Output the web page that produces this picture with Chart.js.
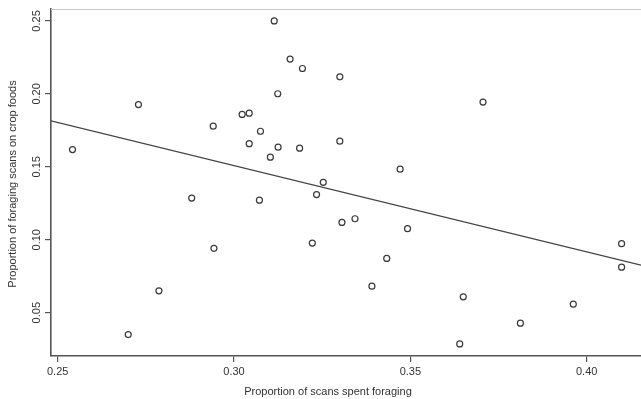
<!DOCTYPE html>
<html>
<head>
<meta charset="utf-8">
<script src="https://cdn.jsdelivr.net/npm/chart.js@4.4.1/dist/chart.umd.min.js"></script>
<style>
  html, body { margin: 0; padding: 0; background: #fff; }
  #wrap { width: 641px; height: 399px; position: relative; }
</style>
</head>
<body>
<div id="wrap"><canvas id="scanChart"></canvas></div>
<script>
// proportion of scans spent foraging (x) vs proportion of foraging scans on crop foods (y)
const foragingProp = [
  0.2542, 0.2729, 0.2700, 0.2787, 0.2880, 0.2941, 0.2943, 0.3023, 0.3043, 0.3043,
  0.3075, 0.3103, 0.3114, 0.3124, 0.3125, 0.3159, 0.3194, 0.3186, 0.3072, 0.3234,
  0.3253, 0.3222, 0.3300, 0.3300, 0.3306, 0.3343, 0.3471, 0.3492, 0.3433, 0.3391,
  0.3706, 0.3650, 0.3640, 0.3812, 0.3962, 0.4099, 0.4099
];
const cropProp = [
  0.1618, 0.1927, 0.0350, 0.0650, 0.1286, 0.1779, 0.0941, 0.1859, 0.1868, 0.1659,
  0.1744, 0.1566, 0.2500, 0.2001, 0.1635, 0.2239, 0.2174, 0.1628, 0.1271, 0.1310,
  0.1394, 0.0977, 0.2117, 0.1676, 0.1119, 0.1144, 0.1484, 0.1076, 0.0872, 0.0682,
  0.1944, 0.0609, 0.0286, 0.0428, 0.0558, 0.0973, 0.0812
];

// fitted line
const fitIntercept = 0.3281;
const fitSlope = -0.591;

const xTicks = [0.25, 0.30, 0.35, 0.40];
const yTicks = [0.05, 0.10, 0.15, 0.20, 0.25];
const xRange = [0.2481, 0.4154];
const yRange = [0.0203, 0.2582];

const xTitle = 'Proportion of scans spent foraging';
const yTitle = 'Proportion of foraging scans on crop foods';

const FONT = '"Liberation Sans", Arial, Helvetica, sans-serif';
const AXIS_COL = '#555';
const TEXT_COL = '#333';

const points = foragingProp.map((x, i) => ({ x: x, y: cropProp[i] }));
const fitLine = xRange.map(x => ({ x: x, y: fitIntercept + fitSlope * x }));

// R-style extras: rotated y tick labels, axis titles, light top frame
const extrasPlugin = {
  id: 'extras',
  afterDraw(chart) {
    const ctx = chart.ctx;
    const area = chart.chartArea;
    const yScale = chart.scales.y;

    ctx.save();
    ctx.strokeStyle = '#c8c8c8';
    ctx.lineWidth = 1;
    ctx.beginPath();
    ctx.moveTo(area.left, area.top + 0.5);
    ctx.lineTo(area.right, area.top + 0.5);
    ctx.stroke();

    ctx.fillStyle = TEXT_COL;
    ctx.font = '11px ' + FONT;
    ctx.textAlign = 'center';
    ctx.textBaseline = 'middle';
    yTicks.forEach(v => {
      const py = yScale.getPixelForValue(v);
      ctx.save();
      ctx.translate(area.left - 14, py);
      ctx.rotate(-Math.PI / 2);
      ctx.fillText(v.toFixed(2), 0, 0);
      ctx.restore();
    });

    // axis titles
    ctx.save();
    ctx.translate(13, area.top + 175);
    ctx.rotate(-Math.PI / 2);
    ctx.fillText(yTitle, 0, 0);
    ctx.restore();

    ctx.fillText(xTitle, area.left + 277, area.bottom + 36);
    ctx.restore();
  }
};

const ctx = document.getElementById('scanChart').getContext('2d');
const scanChart = new Chart(ctx, {
  type: 'scatter',
  data: {
    datasets: [
      {
        label: 'Scans',
        data: points,
        pointStyle: 'circle',
        pointRadius: 3,
        pointBackgroundColor: 'rgba(255,255,255,0)',
        pointBorderColor: '#3a3a3a',
        pointBorderWidth: 1.2,
        order: 1
      },
      {
        label: 'Fit',
        data: fitLine,
        showLine: true,
        borderColor: '#444',
        borderWidth: 1.2,
        pointRadius: 0,
        fill: false,
        order: 2
      }
    ]
  },
  options: {
    responsive: true,
    maintainAspectRatio: false,
    animation: false,
    layout: { autoPadding: false, padding: { top: 9, right: 0, left: 0, bottom: 0 } },
    plugins: {
      legend: { display: false },
      tooltip: { enabled: false }
    },
    scales: {
      x: {
        type: 'linear',
        min: xRange[0],
        max: xRange[1],
        afterBuildTicks: s => { s.ticks = xTicks.map(v => ({ value: v })); },
        afterFit: s => { s.height = 43; },
        border: { color: AXIS_COL, width: 1.6 },
        grid: { drawOnChartArea: false, drawTicks: true, tickLength: 6, color: AXIS_COL, lineWidth: 1.2 },
        ticks: {
          padding: 3,
          color: TEXT_COL,
          font: { family: FONT, size: 11 },
          maxRotation: 0,
          minRotation: 0,
          callback: v => v.toFixed(2)
        }
      },
      y: {
        type: 'linear',
        min: yRange[0],
        max: yRange[1],
        afterBuildTicks: s => { s.ticks = yTicks.map(v => ({ value: v })); },
        afterFit: s => { s.width = 51; },
        border: { color: AXIS_COL, width: 1.6 },
        grid: { drawOnChartArea: false, drawTicks: true, tickLength: 6, color: AXIS_COL, lineWidth: 1.2 },
        ticks: { display: false }
      }
    }
  },
  plugins: [extrasPlugin]
});
</script>
</body>
</html>
